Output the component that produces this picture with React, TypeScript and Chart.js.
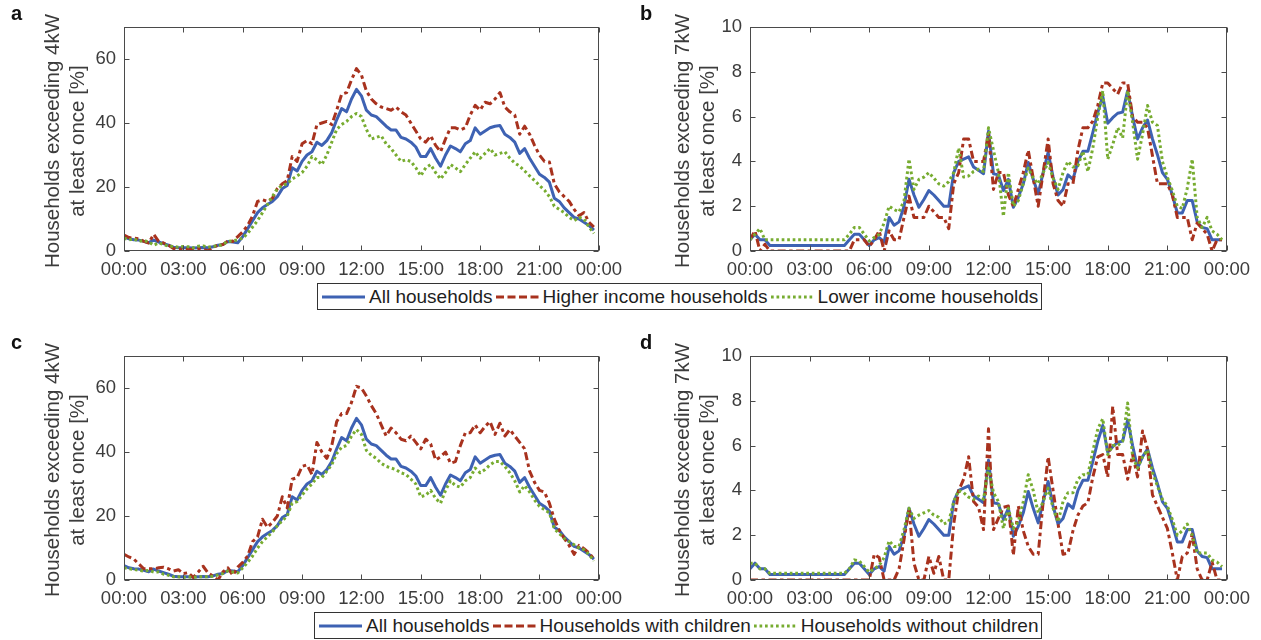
import React, { useEffect, useRef } from 'react';
import { Chart, registerables } from 'chart.js';

Chart.register(...registerables);

// ---------- data ----------
const SLOT_HOURS: number[] = Array.from({ length: 96 }, (_, i) => i * 0.25);
const X_TICK_HOURS = [0, 3, 6, 9, 12, 15, 18, 21, 24];
const X_TICK_LABELS = ['00:00', '03:00', '06:00', '09:00', '12:00', '15:00', '18:00', '21:00', '00:00'];
const Y_TICKS_4KW = [0, 20, 40, 60];
const Y_TICKS_7KW = [0, 2, 4, 6, 8, 10];

const ALL_4KW = [
  4.5, 3.8, 3.5, 3.4, 3.0, 2.6, 3.4, 2.8,
  2.3, 1.8, 1.2, 1.0, 1.0, 1.0, 0.9, 1.0,
  1.1, 1.0, 1.3, 1.8, 2.0, 3.0, 2.8, 2.6,
  4.5, 7.0, 9.5, 12.0, 13.5, 14.5, 15.5, 17.0,
  19.5, 20.5, 26.0, 25.0, 28.0, 30.0, 31.0, 34.0,
  33.0, 34.5, 37.0, 41.0, 44.5, 43.5, 47.5, 50.5,
  48.5, 44.0, 42.5, 42.0, 40.5, 39.0, 37.8, 37.8,
  35.5, 35.0, 34.0, 32.5, 29.5, 29.5, 32.0, 29.0,
  26.5, 30.0, 32.8, 32.0, 31.0, 33.5, 34.5, 38.5,
  36.5, 37.5, 38.5, 39.0, 39.2, 36.5, 35.5, 34.0,
  30.5, 32.0, 29.0, 26.5, 24.0, 23.0, 21.5, 16.5,
  15.5, 13.5, 12.0, 10.5, 10.0, 9.0, 8.0, 6.5,
];

const HIGHER_INCOME_4KW = [
  5.0, 4.2, 4.0, 3.8, 3.0, 2.5, 5.2, 3.0,
  2.5, 1.8, 0.8, 0.5, 0.8, 0.6, 0.5, 0.8,
  0.5, 0.0, 1.2, 1.8, 2.0, 3.2, 3.0, 4.5,
  6.0, 8.0, 11.0, 15.5, 16.0, 15.5, 16.5, 19.5,
  21.0, 22.0, 29.5, 28.0, 33.5, 34.5, 33.5, 39.5,
  40.0, 40.5, 39.5, 44.0, 49.0, 49.5, 53.5, 57.0,
  55.0, 50.0, 47.5, 46.0, 45.0, 44.5, 44.0, 45.0,
  43.5, 42.5, 40.0, 37.5, 35.0, 34.0, 36.0, 33.0,
  31.0, 35.0, 38.5, 38.5, 37.8, 38.5, 42.5, 45.5,
  44.0, 46.5, 46.0, 47.5, 49.5, 45.0, 43.5, 42.5,
  36.5, 39.0, 36.5, 33.0, 30.0, 28.0, 27.8, 21.0,
  18.5, 17.0, 15.5, 13.0, 11.0, 12.0, 9.0, 7.5,
];

const LOWER_INCOME_4KW = [
  4.0, 3.5, 3.8, 3.0, 3.3, 2.8, 1.8, 2.5,
  2.0, 1.5, 1.4, 1.2, 1.4, 1.3, 1.0, 1.5,
  1.6, 1.2, 1.5, 1.6, 2.0, 3.0, 3.2, 3.5,
  4.0, 5.5, 7.5, 9.5, 12.0, 14.5, 17.0, 19.5,
  20.5, 21.0, 22.5, 23.5, 24.5, 26.5, 29.5, 28.5,
  27.0, 30.0, 34.0, 38.0, 39.5, 40.5, 42.0, 43.0,
  42.0, 38.0, 35.0, 35.5, 36.0, 33.5, 32.0, 30.0,
  28.0, 28.5, 28.0, 26.0, 23.5, 26.0, 27.0, 24.5,
  22.5, 24.5, 27.0, 26.0, 24.8, 27.0, 29.0, 31.0,
  29.0, 30.5, 32.0, 30.0, 30.5, 31.0, 29.0, 27.5,
  26.5, 25.0, 23.5, 22.0, 20.5, 19.0, 17.0, 14.0,
  13.0, 12.0, 10.5, 9.5, 10.5, 10.0, 7.5, 5.5,
];

const ALL_7KW = [
  0.5, 0.75, 0.5, 0.5, 0.25, 0.25, 0.25, 0.25,
  0.25, 0.25, 0.25, 0.25, 0.25, 0.25, 0.25, 0.25,
  0.25, 0.25, 0.25, 0.25, 0.5, 0.75, 0.75, 0.5,
  0.25, 0.5, 0.6, 0.4, 1.5, 1.15, 1.3, 2.0,
  3.2, 2.5, 1.95, 2.3, 2.7, 2.5, 2.25, 2.0,
  2.0, 3.5, 4.0, 4.1, 4.2, 3.75, 3.6, 3.45,
  5.35, 3.45, 3.4, 2.7, 3.2, 1.95, 2.4, 3.0,
  3.95, 3.2, 2.55, 3.5, 4.4, 3.3, 2.5, 2.75,
  3.4, 3.2, 4.0, 4.45, 4.45, 5.3, 6.2, 6.9,
  5.7, 5.95, 6.15, 6.2, 7.15, 6.0, 5.0, 5.5,
  5.85, 5.0, 4.3, 3.5, 3.2, 2.5, 1.7, 1.7,
  2.25, 2.25, 1.3, 1.05, 1.0, 0.5, 0.5, 0.5,
];

const HIGHER_INCOME_7KW = [
  0.5, 0.9, 0.0, 0.3, 0.0, 0.0, 0.0, 0.0,
  0.0, 0.0, 0.0, 0.0, 0.0, 0.0, 0.0, 0.0,
  0.0, 0.0, 0.0, 0.0, 0.0, 0.5, 0.5, 0.5,
  0.2, 0.5, 0.9, 0.0, 0.9, 0.5, 0.5, 1.5,
  2.45, 1.5, 1.5, 1.5, 2.0, 1.75, 1.5, 1.5,
  1.0, 3.0, 3.5, 5.0, 5.0, 4.0, 4.0, 4.0,
  5.25, 2.75, 3.5, 3.5, 2.5, 2.0, 2.75, 3.5,
  4.5, 3.25, 2.0, 3.5, 5.0, 3.0, 2.25, 2.0,
  3.0, 3.0, 4.5, 5.5, 5.5, 5.8, 6.5, 7.5,
  7.5, 7.25, 7.0, 7.5, 7.5, 6.0, 5.75, 5.75,
  5.5, 4.25, 3.0, 3.0, 3.0, 2.5, 1.5, 1.5,
  1.5, 0.5, 1.25, 1.0, 0.75, 0.0, 0.5, 0.5,
];

const LOWER_INCOME_7KW = [
  0.5, 0.75, 1.0, 0.5, 0.5, 0.5, 0.5, 0.5,
  0.5, 0.5, 0.5, 0.5, 0.5, 0.5, 0.5, 0.5,
  0.5, 0.5, 0.5, 0.5, 0.75, 1.05, 1.05, 0.75,
  0.45, 0.6, 0.75, 1.25, 2.0, 1.85, 1.75, 2.25,
  4.1, 2.75, 3.2, 3.3, 3.5, 3.25, 3.0, 2.9,
  3.1, 3.5, 4.6, 3.3, 3.35, 3.55, 3.65, 3.55,
  5.5, 4.5, 3.5, 1.55, 3.5, 2.0, 2.25, 3.0,
  3.7, 3.25, 3.0, 3.5, 3.95, 3.25, 2.75, 3.5,
  4.0, 3.75, 3.8, 4.45, 3.55, 4.6, 6.0, 7.15,
  4.1, 4.75, 5.5, 5.05, 7.15, 5.75, 4.1, 5.2,
  6.5, 5.75, 5.6, 4.0, 3.3, 2.7, 2.0, 1.9,
  2.8, 4.1, 1.5, 1.05, 1.5, 0.9, 0.75, 0.5,
];

const WITH_CHILDREN_4KW = [
  8.0, 7.2, 6.5, 5.0, 3.5, 3.5, 3.5, 3.8,
  4.0, 3.5, 2.8, 3.2, 2.0, 2.3, 0.8, 2.5,
  4.3, 2.2, 1.2, 0.0, 2.5, 3.8, 1.5, 4.0,
  5.5, 7.5, 12.0, 13.5, 19.0, 16.5, 18.0, 20.0,
  26.0, 22.5, 31.5, 32.0, 35.5, 36.0, 33.0, 43.0,
  40.0, 38.0, 42.0, 49.5, 52.0, 52.0, 55.5, 60.5,
  60.0, 57.5, 54.5, 52.0, 48.5, 45.0, 47.5, 46.0,
  44.0, 43.5, 45.0, 43.0, 41.0, 44.0, 42.5, 37.5,
  38.5, 40.0, 36.5, 37.0, 42.0, 46.0, 46.0, 48.5,
  46.0, 48.0, 49.5, 45.5, 49.0, 45.0, 47.0, 45.0,
  43.0, 41.0, 34.0, 30.5, 28.0, 27.5, 24.0, 19.0,
  15.5, 13.0, 10.8, 8.0, 10.8, 9.8, 8.5, 6.5,
];

const WITHOUT_CHILDREN_4KW = [
  3.8, 3.5, 3.3, 3.0, 2.8, 3.0, 2.5, 2.5,
  1.8, 1.5, 1.0, 1.0, 0.8, 1.0, 0.8, 1.0,
  1.0, 1.0, 1.2, 1.6, 2.0, 2.8, 2.5, 2.2,
  3.8, 5.5, 7.5, 10.0, 12.0, 13.5, 15.0, 17.0,
  18.5, 20.0, 24.0, 24.5, 26.5, 28.5, 30.0, 32.0,
  32.0, 34.0, 36.0, 39.5, 41.5, 42.0, 45.0, 47.0,
  45.5, 40.5, 39.0, 38.0, 36.5, 35.5, 35.0, 34.5,
  33.5, 33.0, 31.5, 30.0, 26.0, 26.5, 28.0, 25.5,
  24.0, 28.0, 31.0, 29.5, 29.0, 31.0, 32.0, 35.0,
  33.5, 34.5, 36.0, 37.0, 37.0, 35.5, 33.5, 31.0,
  27.5, 29.5, 27.5, 25.0, 23.0, 22.0, 21.0, 16.0,
  14.5, 13.0, 12.0, 11.0, 10.0, 9.5, 8.0, 6.0,
];

const WITH_CHILDREN_7KW = [
  0.0, 0.0, 0.0, 0.0, 0.0, 0.0, 0.0, 0.0,
  0.0, 0.0, 0.0, 0.0, 0.0, 0.0, 0.0, 0.0,
  0.0, 0.0, 0.0, 0.0, 0.0, 0.0, 0.0, 0.0,
  0.0, 1.15, 1.0, 0.0, 0.0, 0.0, 0.5, 1.8,
  3.2, 0.75, 0.0, 0.0, 1.05, 0.3, 1.05, 0.0,
  0.0, 2.5, 4.0, 4.5, 5.5, 3.5, 3.25, 2.25,
  6.75, 2.25, 2.75, 3.25, 3.3, 1.1, 3.3, 2.2,
  1.5, 1.15, 1.15, 3.5, 5.5, 4.0, 2.5, 1.15,
  1.2, 2.2, 2.9, 3.3, 3.45, 4.6, 5.5, 5.6,
  4.6, 7.75, 5.6, 5.6, 4.5, 5.6, 4.6, 6.65,
  5.85, 3.8, 3.3, 2.8, 2.3, 1.2, 0.0, 1.05,
  1.2, 2.05, 0.5, 0.0, 0.0, 0.8, 0.0, 0.0,
];

const WITHOUT_CHILDREN_7KW = [
  0.75, 0.75, 0.5, 0.5, 0.3, 0.3, 0.3, 0.3,
  0.3, 0.3, 0.3, 0.3, 0.3, 0.3, 0.3, 0.3,
  0.3, 0.3, 0.3, 0.3, 0.5, 0.9, 0.85, 0.6,
  0.35, 0.5, 0.65, 1.0, 1.75, 1.5, 1.5, 2.25,
  3.2, 2.75, 2.9, 3.0, 3.1, 2.9, 2.8, 2.5,
  2.6, 3.5, 4.0, 3.9, 3.7, 3.6, 3.75, 3.6,
  5.0, 3.9, 3.5, 2.3, 3.2, 2.3, 2.6, 3.5,
  4.7, 4.0, 3.0, 3.5, 4.1, 3.2, 2.6, 3.5,
  3.9, 3.9, 4.5, 4.7, 4.7, 5.75, 6.75, 7.2,
  5.6, 6.0, 6.0, 6.2, 7.9, 5.5, 5.0, 5.5,
  5.8, 4.8, 4.2, 3.6, 3.3, 2.7, 2.0, 2.2,
  2.5, 2.0, 1.2, 1.2, 1.2, 0.9, 0.8, 0.6,
];

// ---------- styles ----------
const FONT = "'Liberation Sans', Arial, Helvetica, sans-serif";
const AXIS_TEXT = '#3c3c3c';
const AXIS_LINE = '#4a4a4a';
const BLUE = '#3E62B3';
const RED = '#A8321E';
const GREEN = '#77AC30';
const RED_DASH = [8, 3.5, 3.5, 3.5];
const RED_LEGEND_DASH = [8, 3.5];
const GREEN_DASH = [2.7, 2.8];
const TITLE_FONT_SIZE = 20.5;
const TITLE_LINE_GAP = 25;

type SeriesDef = { label: string; values: number[]; kind: 'solid' | 'dashdot' | 'dot' };

const boxPlugin = {
  id: 'matlabBox',
  afterDatasetsDraw(chart: any) {
    const { ctx, chartArea: a, scales } = chart;
    ctx.save();
    ctx.strokeStyle = AXIS_LINE;
    ctx.lineWidth = 1;
    ctx.setLineDash([]);
    const L = Math.round(a.left) + 0.5;
    const R = Math.round(a.right) - 0.5;
    const T = Math.round(a.top) + 0.5;
    const B = Math.round(a.bottom) - 0.5;
    ctx.strokeRect(L, T, R - L, B - T);
    ctx.beginPath();
    scales.x.ticks.forEach((t: any) => {
      const px = Math.round(scales.x.getPixelForValue(t.value)) + 0.5;
      ctx.moveTo(px, B); ctx.lineTo(px, B - 5);
      ctx.moveTo(px, T); ctx.lineTo(px, T + 5);
    });
    scales.y.ticks.forEach((t: any) => {
      const py = Math.round(scales.y.getPixelForValue(t.value)) + 0.5;
      ctx.moveTo(L, py); ctx.lineTo(L + 5, py);
      ctx.moveTo(R, py); ctx.lineTo(R - 5, py);
    });
    ctx.stroke();
    ctx.restore();
  },
};

// y-axis title drawn without Chart.js's maxWidth squeeze (text is longer than the plot height)
const yTitlePlugin = {
  id: 'yTitle',
  afterDraw(chart: any, _args: any, opts: any) {
    const { ctx, chartArea } = chart;
    const lines: string[] = opts.lines || [];
    const cy = (chartArea.top + chartArea.bottom) / 2 + 2;
    ctx.save();
    ctx.fillStyle = AXIS_TEXT;
    ctx.font = `${TITLE_FONT_SIZE}px ${FONT}`;
    ctx.textAlign = 'center';
    ctx.textBaseline = 'middle';
    lines.forEach((ln, i) => {
      ctx.save();
      ctx.translate(opts.x + i * TITLE_LINE_GAP, cy);
      ctx.rotate(-Math.PI / 2);
      ctx.fillText(ln, 0, 0);
      ctx.restore();
    });
    ctx.restore();
  },
};

function styleFor(kind: SeriesDef['kind']) {
  if (kind === 'solid') return { borderColor: BLUE, borderDash: [] as number[], order: 3 };
  if (kind === 'dashdot') return { borderColor: RED, borderDash: RED_DASH, order: 2 };
  return { borderColor: GREEN, borderDash: GREEN_DASH, order: 1 };
}

type PanelProps = {
  left: number; top: number; width: number; height: number;
  plotLeft: number; plotRight: number; plotTop: number; plotBottom: number;
  yMax: number; yTicks: number[]; title: string[]; series: SeriesDef[];
};

function Panel(p: PanelProps) {
  const ref = useRef<HTMLCanvasElement | null>(null);
  useEffect(() => {
    if (!ref.current) return;
    const chart = new Chart(ref.current, {
      type: 'line',
      data: {
        datasets: p.series.map((s) => ({
          label: s.label,
          data: SLOT_HOURS.map((h, i) => ({ x: h, y: s.values[i] })),
          borderWidth: 3,
          pointRadius: 0,
          tension: 0,
          fill: false,
          borderCapStyle: 'butt',
          borderJoinStyle: 'round',
          ...styleFor(s.kind),
        })) as any,
      },
      options: {
        responsive: false,
        maintainAspectRatio: false,
        animation: false,
        devicePixelRatio: 1,
        layout: {
          padding: { left: 0, top: p.plotTop, right: p.width - p.plotRight, bottom: 0 },
        },
        plugins: {
          legend: { display: false },
          tooltip: { enabled: false },
          yTitle: { lines: p.title, x: 53 },
        },
        scales: {
          x: {
            type: 'linear',
            min: 0,
            max: 24,
            grid: { display: false, drawTicks: false },
            border: { display: false },
            afterBuildTicks: (scale: any) => { scale.ticks = X_TICK_HOURS.map((v) => ({ value: v })); },
            afterFit: (scale: any) => { scale.height = p.height - p.plotBottom; },
            ticks: {
              autoSkip: false,
              maxRotation: 0,
              padding: 8,
              color: AXIS_TEXT,
              font: { family: FONT, size: 18.5 },
              callback: (_v: any, i: number) => X_TICK_LABELS[i],
            },
          },
          y: {
            type: 'linear',
            min: 0,
            max: p.yMax,
            grid: { display: false, drawTicks: false },
            border: { display: false },
            afterBuildTicks: (scale: any) => { scale.ticks = p.yTicks.map((v) => ({ value: v })); },
            afterFit: (scale: any) => { scale.width = p.plotLeft; },
            ticks: {
              padding: 8,
              color: AXIS_TEXT,
              font: { family: FONT, size: 18.5 },
              callback: (v: any) => String(v),
            },
            title: { display: false },
          },
        },
      } as any,
      plugins: [boxPlugin, yTitlePlugin],
    });
    return () => chart.destroy();
  }, []);
  return (
    <div style={{ position: 'absolute', left: p.left, top: p.top, width: p.width, height: p.height }}>
      <canvas ref={ref} width={p.width} height={p.height} style={{ width: p.width, height: p.height, display: 'block' }} />
    </div>
  );
}

function Sample({ kind }: { kind: SeriesDef['kind'] }) {
  const st = styleFor(kind);
  const dash = (kind === 'dashdot' ? RED_LEGEND_DASH : st.borderDash).join(' ');
  return (
    <svg width={43} height={10} style={{ display: 'block', flex: '0 0 auto' }}>
      <line x1={0} y1={5} x2={43} y2={5} stroke={st.borderColor} strokeWidth={3}
        strokeDasharray={dash || undefined} />
    </svg>
  );
}

function Legend({ left, top, series }: { left: number; top: number; series: SeriesDef[] }) {
  return (
    <div style={{
      position: 'absolute', left, top, height: 27, boxSizing: 'border-box',
      border: '1px solid #333', background: '#fff', display: 'flex', alignItems: 'center',
      paddingLeft: 4, paddingRight: 3, fontFamily: FONT, fontSize: 19, color: '#1e1e1e', whiteSpace: 'nowrap',
    }}>
      {series.map((s, i) => (
        <React.Fragment key={s.label}>
          <Sample kind={s.kind} />
          <span style={{ marginLeft: 4, marginRight: i < series.length - 1 ? 3 : 0, lineHeight: '25px' }}>{s.label}</span>
        </React.Fragment>
      ))}
    </div>
  );
}

const INCOME_4KW: SeriesDef[] = [
  { label: 'All households', values: ALL_4KW, kind: 'solid' },
  { label: 'Higher income households', values: HIGHER_INCOME_4KW, kind: 'dashdot' },
  { label: 'Lower income households', values: LOWER_INCOME_4KW, kind: 'dot' },
];
const INCOME_7KW: SeriesDef[] = [
  { label: 'All households', values: ALL_7KW, kind: 'solid' },
  { label: 'Higher income households', values: HIGHER_INCOME_7KW, kind: 'dashdot' },
  { label: 'Lower income households', values: LOWER_INCOME_7KW, kind: 'dot' },
];
const CHILDREN_4KW: SeriesDef[] = [
  { label: 'All households', values: ALL_4KW, kind: 'solid' },
  { label: 'Households with children', values: WITH_CHILDREN_4KW, kind: 'dashdot' },
  { label: 'Households without children', values: WITHOUT_CHILDREN_4KW, kind: 'dot' },
];
const CHILDREN_7KW: SeriesDef[] = [
  { label: 'All households', values: ALL_7KW, kind: 'solid' },
  { label: 'Households with children', values: WITH_CHILDREN_7KW, kind: 'dashdot' },
  { label: 'Households without children', values: WITHOUT_CHILDREN_7KW, kind: 'dot' },
];

const TITLE_4KW = ['Households exceeding 4kW', 'at least once [%]'];
const TITLE_7KW = ['Households exceeding 7kW', 'at least once [%]'];

function PanelLetter({ left, top, text }: { left: number; top: number; text: string }) {
  return (
    <div style={{ position: 'absolute', left, top, fontFamily: FONT, fontWeight: 'bold', fontSize: 20, lineHeight: '20px', color: '#111' }}>{text}</div>
  );
}

export default function App() {
  return (
    <div style={{ position: 'fixed', left: 0, top: 0, width: 1261, height: 640, background: '#fff', overflow: 'hidden' }}>
      <Panel left={0} top={0} width={630} height={280} plotLeft={124} plotRight={599} plotTop={27} plotBottom={251}
        yMax={70} yTicks={Y_TICKS_4KW} title={TITLE_4KW} series={INCOME_4KW} />
      <Panel left={630} top={0} width={631} height={280} plotLeft={120} plotRight={597} plotTop={27} plotBottom={251}
        yMax={10} yTicks={Y_TICKS_7KW} title={TITLE_7KW} series={INCOME_7KW} />
      <Panel left={0} top={329} width={630} height={280} plotLeft={124} plotRight={599} plotTop={27} plotBottom={251}
        yMax={70} yTicks={Y_TICKS_4KW} title={TITLE_4KW} series={CHILDREN_4KW} />
      <Panel left={630} top={329} width={631} height={280} plotLeft={120} plotRight={597} plotTop={27} plotBottom={251}
        yMax={10} yTicks={Y_TICKS_7KW} title={TITLE_7KW} series={CHILDREN_7KW} />
      <Legend left={317} top={283} series={INCOME_4KW} />
      <Legend left={314} top={612} series={CHILDREN_4KW} />
      <PanelLetter left={11} top={3} text="a" />
      <PanelLetter left={640} top={3} text="b" />
      <PanelLetter left={11} top={332} text="c" />
      <PanelLetter left={640} top={332} text="d" />
    </div>
  );
}
